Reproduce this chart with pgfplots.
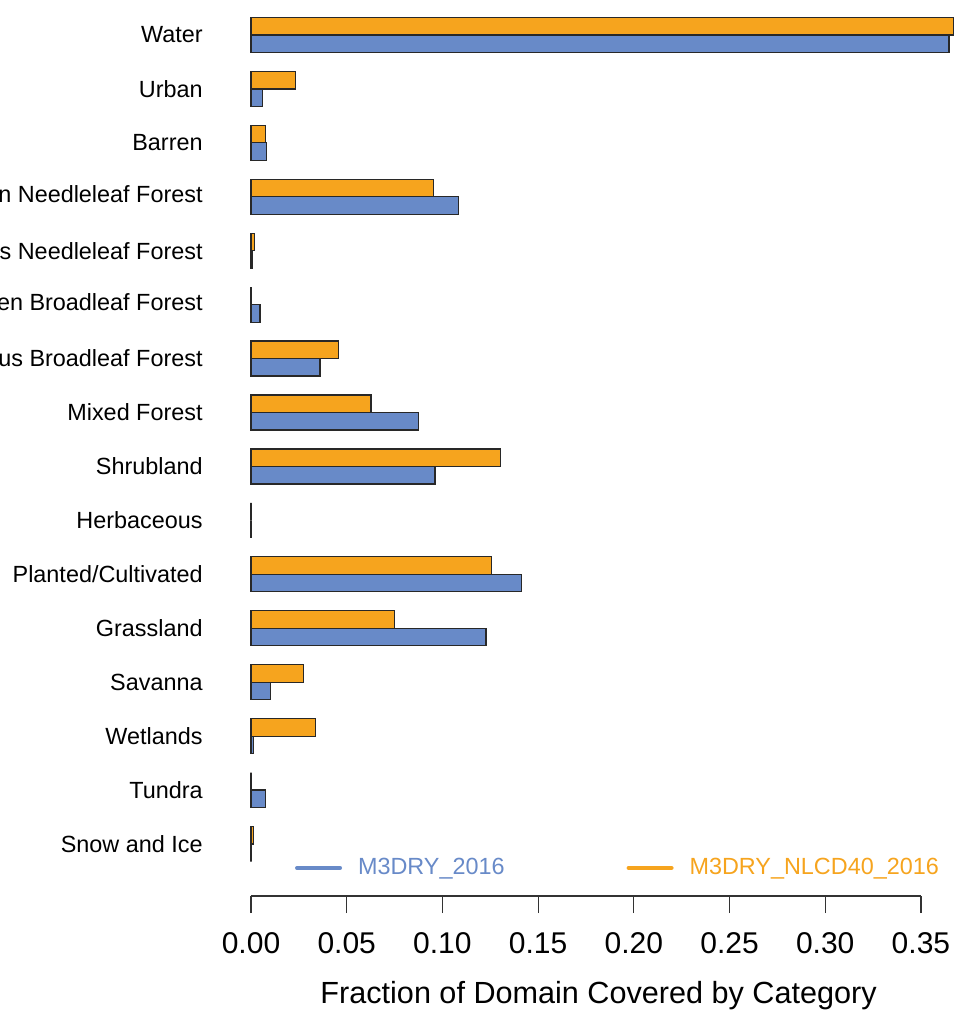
\documentclass[border=0pt]{standalone}
\usepackage{pgfplots}
\pgfplotsset{compat=1.18}
\usepackage{fontspec}
\setmainfont{Liberation Sans}
\definecolor{cblue}{RGB}{104,138,200}
\definecolor{corange}{RGB}{246,164,30}
\definecolor{edge}{RGB}{40,40,40}
\begin{document}
\begin{tikzpicture}
\begin{axis}[
  scale only axis,
  width=352pt, height=448pt,
  xmin=0, xmax=0.3678,
  ymin=0.036, ymax=16.649,
  axis line style={draw=none},
  xtick={0,0.05,...,0.35},
  xticklabels={0.00,0.05,0.10,0.15,0.20,0.25,0.30,0.35},
  xtick align=outside,
  major tick length=8.5pt,
  xtick style={draw=black!80, line width=0.6pt},
  x tick label style={font=\fontsize{15}{18}\selectfont, inner sep=0pt, anchor=north, yshift=-9.5pt},
  ytick={1,...,16},
  yticklabels={Snow and Ice,Tundra,Wetlands,Savanna,Grassland,Planted/Cultivated,Herbaceous,Shrubland,Mixed Forest,Deciduous Broadleaf Forest,Evergreen Broadleaf Forest,Deciduous Needleleaf Forest,Evergreen Needleleaf Forest,Barren,Urban,Water},
  ytick style={draw=none},
  y tick label style={font=\fontsize{11.7}{14}\selectfont, inner sep=0pt, anchor=east, xshift=-24pt},
  xlabel={Fraction of Domain Covered by Category},
  xlabel style={font=\fontsize{15.3}{18}\selectfont, at={(rel axis cs:0.4937,0)}, anchor=center, yshift=-50pt, inner sep=0pt},
  clip=false,
  legend columns=2,
  legend style={draw=none, fill=none, at={(axis cs:0.0228,0.0360)}, anchor=south west, yshift=9pt,
    font=\fontsize{11.7}{14}\selectfont, inner sep=0pt,
    nodes={inner sep=0pt, anchor=west},
    /tikz/every odd column/.append style={column sep=8pt},
    /tikz/every even column/.append style={column sep=61pt}},
  legend cell align=left,
]
\addplot[xbar, bar width=8.75pt, bar shift=-4.375pt, fill=cblue, draw=edge, line width=0.6pt,
  legend image code/.code={\draw[cblue, line width=2pt, line cap=round] (0pt,0pt) -- (21.5pt,0pt);}]
coordinates {
(0.3647,16) (0.0061,15) (0.0082,14) (0.1085,13) (0.0005,12) (0.0047,11) (0.0361,10) (0.0874,9)
(0.0961,8) (0,7) (0.1412,6) (0.1228,5) (0.0103,4) (0.0014,3) (0.0075,2) (0,1)};
\addlegendentry{\textcolor{cblue}{M3DRY\_2016}}
\addplot[xbar, bar width=8.75pt, bar shift=4.375pt, fill=corange, draw=edge, line width=0.6pt,
  legend image code/.code={\draw[corange, line width=2pt, line cap=round] (0pt,0pt) -- (21.5pt,0pt);}]
coordinates {
(0.3668,16) (0.0232,15) (0.0075,14) (0.0954,13) (0.0019,12) (0,11) (0.0456,10) (0.0627,9)
(0.1303,8) (0,7) (0.1256,6) (0.0751,5) (0.0273,4) (0.0336,3) (0,2) (0.0014,1)};
\addlegendentry{\textcolor{corange}{M3DRY\_NLCD40\_2016}}
\draw[black!80, line width=0.6pt] (axis cs:0,0.036) -- (axis cs:0.35,0.036);
\end{axis}
\pgfresetboundingbox
\path ([shift={(-125.5pt,-57pt)}]current axis.south west) rectangle (current axis.north east);
\end{tikzpicture}
\end{document}
